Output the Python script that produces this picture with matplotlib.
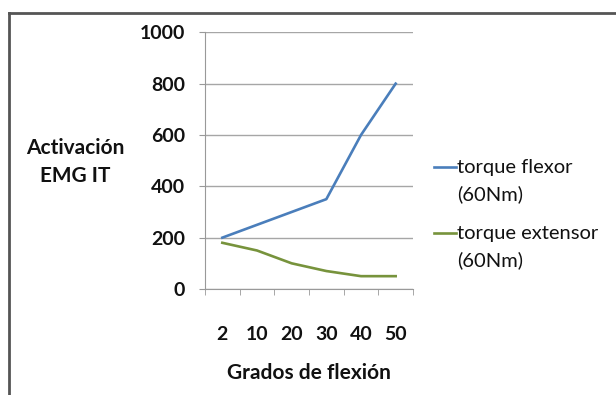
import matplotlib
matplotlib.use("Agg")
import matplotlib.pyplot as plt
from matplotlib.lines import Line2D

plt.rcParams['font.family'] = ['Lato', 'DejaVu Sans']

categories = ["2", "10", "20", "30", "40", "50"]
flexor = [200, 250, 300, 350, 600, 800]
extensor = [180, 150, 100, 70, 50, 50]
series_labels = ["torque flexor\n(60Nm)", "torque extensor\n(60Nm)"]
y_ticks = [0, 200, 400, 600, 800, 1000]

W, H = 616, 395
fig = plt.figure(figsize=(W / 100, H / 100), dpi=100)
fig.patch.set_facecolor("white")


def fx(px):
    return px / W


def fy(py):
    return 1 - py / H


# frame around the chart (top and left edges visible)
fig.add_artist(Line2D([fx(8.5), fx(8.5)], [0, fy(12.5)], transform=fig.transFigure,
                      color="#555555", lw=2.0))
fig.add_artist(Line2D([fx(8.5), 1], [fy(12.5), fy(12.5)], transform=fig.transFigure,
                      color="#555555", lw=2.0))

ax = fig.add_axes([fx(205), fy(289), (413 - 205) / W, (289 - 32.3) / H])
x = list(range(len(categories)))
colors = ["#4a7ebb", "#77933c"]
l1, = ax.plot(x, flexor, color=colors[0], lw=1.9)
l2, = ax.plot(x, extensor, color=colors[1], lw=1.9)

ax.set_xlim(-0.5, len(categories) - 0.5)
ax.set_ylim(0, 1000)
ax.set_yticks(y_ticks)
ax.set_yticklabels([str(v) for v in y_ticks], fontsize=14, fontweight="bold", color="#111111")
ax.set_xticks(x)
ax.set_xticklabels(categories, fontsize=14, fontweight="bold", color="#111111")
ax.set_xticks([i - 0.5 for i in range(len(categories) + 1)], minor=True)
ax.tick_params(axis="x", which="major", length=0, pad=27)
ax.tick_params(axis="x", which="minor", length=4.5, direction="out", color="#999999")
ax.tick_params(axis="y", length=4.5, direction="out", color="#999999", pad=10)

ax.grid(axis="y", color="#a6a6a6", lw=1.0)
ax.set_axisbelow(True)
for side in ["top", "right"]:
    ax.spines[side].set_visible(False)
ax.spines["left"].set_color("#999999")
ax.spines["bottom"].set_color("#999999")

ax.set_xlabel("Grados de flexión", fontsize=15, fontweight="bold", labelpad=14, color="#111111")
fig.text(fx(75), fy(162), "Activación\nEMG IT", ha="center", va="center",
         fontsize=15, fontweight="bold", color="#111111", linespacing=1.45)

# legend: short line swatch beside the first line of each two-line label
legend_rows = [167, 233]
for line, label, row in zip([l1, l2], series_labels, legend_rows):
    fig.add_artist(Line2D([fx(434), fx(456)], [fy(row), fy(row)], transform=fig.transFigure,
                          color=line.get_color(), lw=1.9))
    fig.text(fx(457), fy(row - 8), label, ha="left", va="top", fontsize=14.5,
             color="#111111", linespacing=1.65)

fig.savefig("out.png", dpi=100, facecolor="white")
